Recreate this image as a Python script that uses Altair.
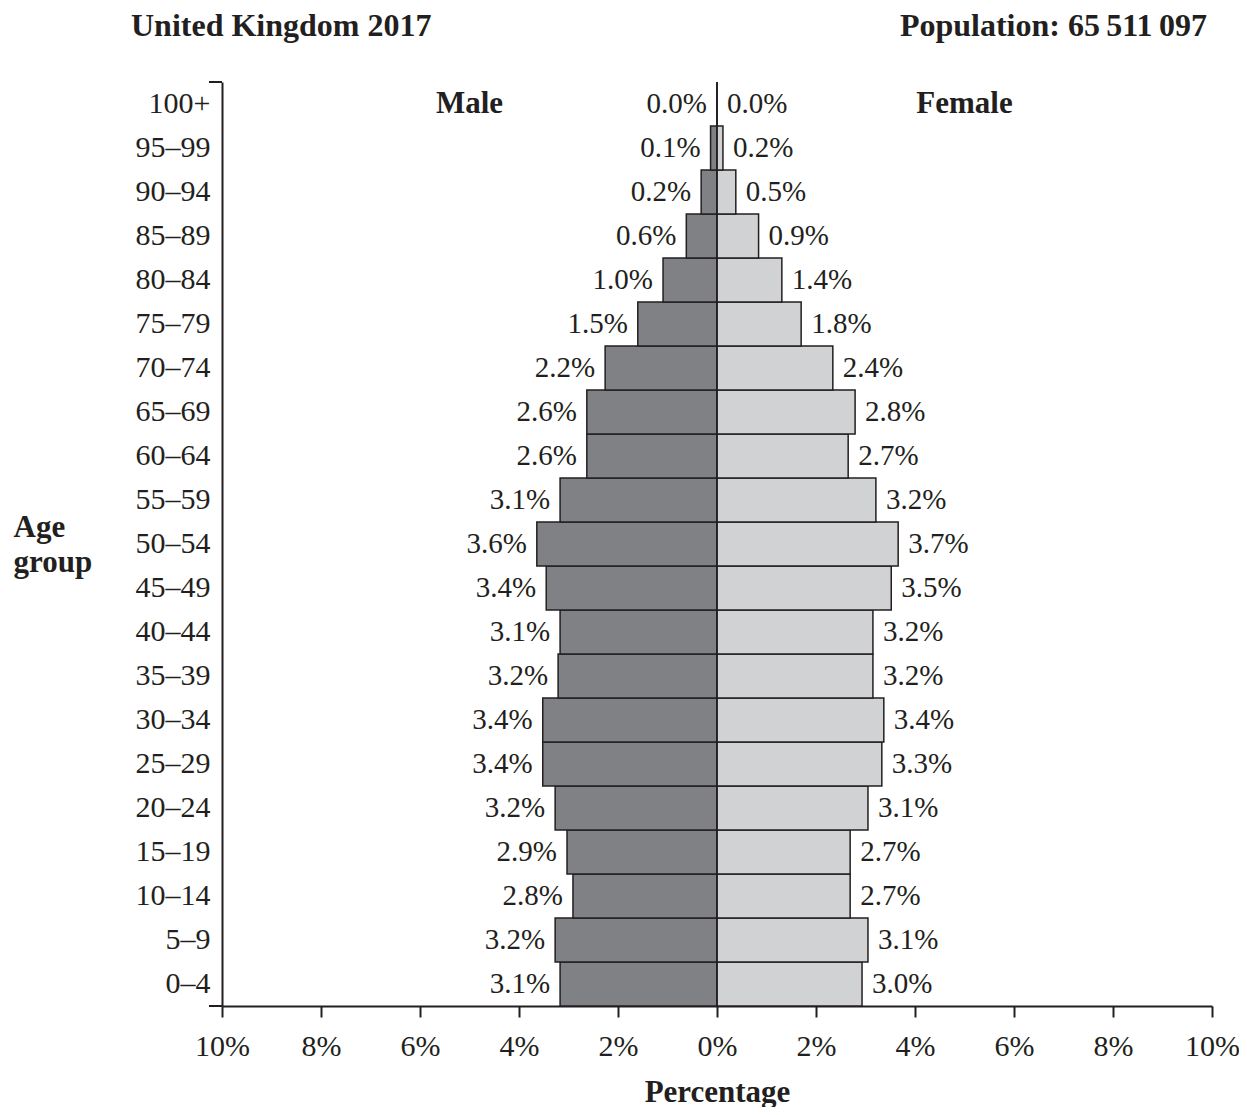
import altair as alt
import pandas as pd

# ---- data ----
ages = ["0–4", "5–9", "10–14", "15–19", "20–24", "25–29", "30–34", "35–39",
        "40–44", "45–49", "50–54", "55–59", "60–64", "65–69", "70–74", "75–79",
        "80–84", "85–89", "90–94", "95–99", "100+"]
male_pct = [3.17, 3.27, 2.91, 3.03, 3.27, 3.52, 3.52, 3.21, 3.17, 3.45, 3.64,
            3.17, 2.63, 2.63, 2.26, 1.60, 1.09, 0.62, 0.32, 0.13, 0.0]
female_pct = [2.93, 3.05, 2.69, 2.69, 3.05, 3.33, 3.37, 3.15, 3.15, 3.52, 3.66,
              3.21, 2.65, 2.79, 2.34, 1.70, 1.31, 0.84, 0.38, 0.12, 0.0]
male_labels = ["3.1%", "3.2%", "2.8%", "2.9%", "3.2%", "3.4%", "3.4%", "3.2%",
               "3.1%", "3.4%", "3.6%", "3.1%", "2.6%", "2.6%", "2.2%", "1.5%",
               "1.0%", "0.6%", "0.2%", "0.1%", "0.0%"]
female_labels = ["3.0%", "3.1%", "2.7%", "2.7%", "3.1%", "3.3%", "3.4%", "3.2%",
                 "3.2%", "3.5%", "3.7%", "3.2%", "2.7%", "2.8%", "2.4%", "1.8%",
                 "1.4%", "0.9%", "0.5%", "0.2%", "0.0%"]
x_ticks = [-10, -8, -6, -4, -2, 0, 2, 4, 6, 8, 10]
sexes = ["Male", "Female"]
header_pos = [-5, 5]
title_left = "United Kingdom 2017"
title_right = "Population: 65\u2009511\u2009097"

# ---- build table ----
n = len(ages)
df = pd.DataFrame({
    "age": ages * 2,
    "sex": ["Male"] * n + ["Female"] * n,
    "value": male_pct + female_pct,
    "label": male_labels + female_labels,
})
df["signed"] = df.apply(lambda r: -r["value"] if r["sex"] == "Male" else r["value"], axis=1)
df["zero"] = 0.0

order = list(reversed(ages))
W, H = 990, 924
SERIF = "Liberation Serif"
INK = "#231f20"

xscale = alt.Scale(domain=[-10, 10], nice=False, zero=False)
yscale = alt.Scale(domain=order, paddingInner=0, paddingOuter=0)

x_axis = alt.Axis(
    values=x_ticks, labelExpr="abs(datum.value) + '%'", grid=False,
    tickSize=11, tickWidth=2, tickColor=INK, domainColor=INK, domainWidth=2,
    labelFont=SERIF, labelFontSize=30, labelColor=INK, labelPadding=14,
    labelFlush=False, labelOverlap=False,
    title="Percentage", titleFont=SERIF, titleFontSize=31, titleFontWeight="bold",
    titleColor=INK, titleY=95, titleBaseline="alphabetic",
)
y_axis = alt.Axis(
    ticks=False, grid=False, domainColor=INK, domainWidth=2,
    labelFont=SERIF, labelFontSize=30, labelColor=INK, labelPadding=12,
    title=["Age", "group"], titleFont=SERIF, titleFontSize=31,
    titleFontWeight="bold", titleColor=INK, titleAngle=0, titleAlign="left",
    titleX=-209, titleY=445, titleBaseline="middle", titleLineHeight=35,
)

base = alt.Chart(df)

bars = base.mark_bar(stroke=INK, strokeWidth=1.5).encode(
    y=alt.Y("age:N", sort=order, scale=yscale, axis=y_axis),
    x=alt.X("zero:Q", scale=xscale, axis=x_axis),
    x2="signed:Q",
    color=alt.Color("sex:N", scale=alt.Scale(domain=sexes, range=["#808185", "#d1d2d4"]),
                    legend=None),
)

male_text = base.transform_filter(alt.datum.sex == "Male").mark_text(
    align="right", baseline="middle", dx=-10, font=SERIF, fontSize=29, color=INK
).encode(y=alt.Y("age:N", sort=order), x="signed:Q", text="label:N")

female_text = base.transform_filter(alt.datum.sex == "Female").mark_text(
    align="left", baseline="middle", dx=10, font=SERIF, fontSize=29, color=INK
).encode(y=alt.Y("age:N", sort=order), x="signed:Q", text="label:N")

headers = alt.Chart(pd.DataFrame({"sex": sexes, "pos": header_pos, "age": ["100+", "100+"]})).mark_text(
    align="center", baseline="middle", font=SERIF, fontSize=31, fontWeight="bold", color=INK
).encode(x="pos:Q", y=alt.Y("age:N", sort=order), text="sex:N")

center = alt.Chart(pd.DataFrame({"z": [0]})).mark_rule(color=INK, strokeWidth=1.5).encode(
    x="z:Q", y=alt.value(0), y2=alt.value(H))

one = pd.DataFrame({"a": [0]})
tick_top = alt.Chart(one).mark_rule(color=INK, strokeWidth=2).encode(
    x=alt.value(-13), x2=alt.value(0), y=alt.value(0))
tick_bot = alt.Chart(one).mark_rule(color=INK, strokeWidth=2).encode(
    x=alt.value(-13), x2=alt.value(0), y=alt.value(H))

t_left = alt.Chart(pd.DataFrame({"t": [title_left]})).mark_text(
    align="left", baseline="alphabetic", font=SERIF, fontSize=32, fontWeight="bold", color=INK
).encode(x=alt.value(-91), y=alt.value(-46), text="t:N")
t_right = alt.Chart(pd.DataFrame({"t": [title_right]})).mark_text(
    align="right", baseline="alphabetic", font=SERIF, fontSize=32, fontWeight="bold", color=INK
).encode(x=alt.value(985), y=alt.value(-46), text="t:N")

chart = alt.layer(bars, center, male_text, female_text, headers, tick_top, tick_bot,
                  t_left, t_right).properties(
    width=W, height=H,
    autosize=alt.AutoSizeParams(type="none"),
    padding={"left": 214, "top": 74, "right": 27, "bottom": 101},
    background="white",
).configure_view(stroke=None)

chart.save("out.html", embed_options={"renderer": "svg", "actions": False})
